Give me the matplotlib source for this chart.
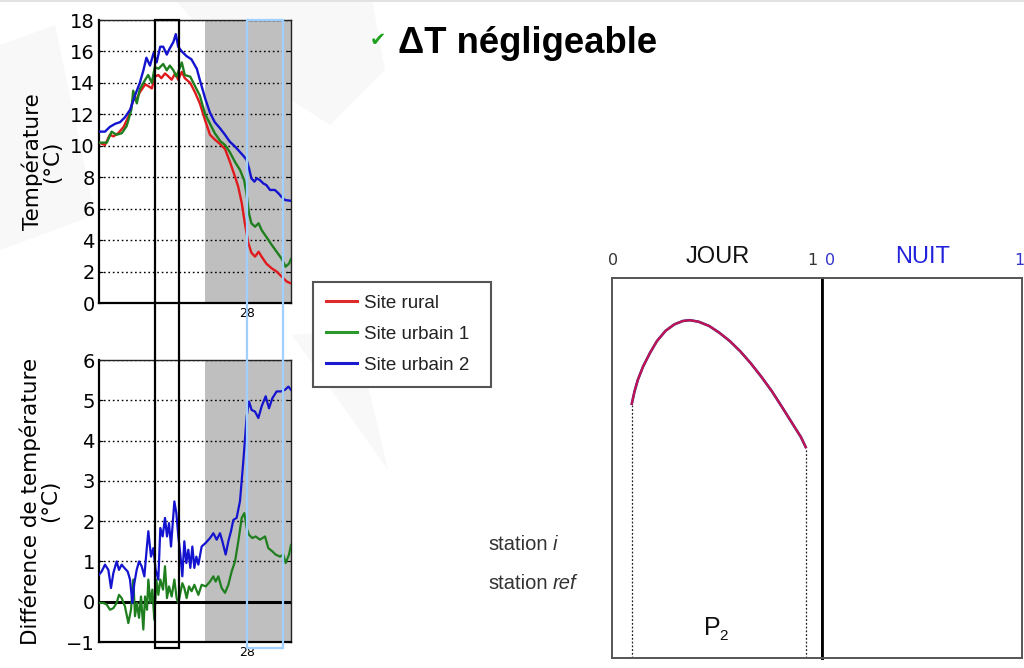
import matplotlib
matplotlib.use("Agg")
import matplotlib.pyplot as plt
import matplotlib.transforms as mtransforms
from matplotlib.patches import Rectangle, Polygon
from matplotlib.lines import Line2D
from matplotlib.font_manager import FontProperties

# ---------------------------------------------------------------- data
# time axis in hours from the start of the record
t_max = 32.0
day28_h = 24.67          # midnight, start of day 28
night_start = 17.67      # shaded night period
noon_box = (9.39, 13.39)
night_box = (24.67, 30.6)
day_tick_labels = ["28"]

# air temperature (°C)
rural_h = [0, 1.0, 1.8, 2.4, 3.2, 4.1, 4.9, 5.7, 6.3, 6.8, 7.7, 8.2, 8.8, 9.3, 9.9,
           10.4, 11.0, 11.6, 12.1, 12.7, 13.2, 13.8, 14.3, 15.2, 16.0, 16.8, 17.7,
           18.5, 19.3, 20.2, 21.0, 21.8, 22.7, 23.2, 23.8, 24.3, 24.9, 25.4, 26.0,
           26.6, 27.1, 27.9, 28.8, 29.6, 30.4, 31.3, 32.0]
rural_t = [10.2, 10.05, 10.7, 10.6, 10.8, 11.2, 11.85, 12.9, 13.0, 13.4, 13.9, 13.8,
           13.65, 14.4, 14.5, 14.3, 14.6, 14.4, 14.2, 14.6, 14.2, 14.7, 14.3, 14.0,
           13.4, 12.7, 11.6, 10.7, 10.4, 10.1, 9.8, 9.0, 8.0, 7.4, 6.34, 5.08, 3.8,
           3.2, 2.95, 3.26, 2.95, 2.5, 2.2, 2.0, 1.7, 1.36, 1.25]

urb1_h = [0, 1.3, 2.1, 2.9, 3.8, 4.6, 5.4, 5.7, 6.3, 6.8, 7.7, 8.2, 8.8, 9.3, 9.9,
          10.7, 11.3, 11.8, 12.4, 12.9, 13.8, 14.3, 15.2, 16.0, 16.8, 17.7, 18.5,
          19.3, 20.2, 21.0, 21.8, 22.7, 23.5, 24.2, 24.6, 25.0, 25.4, 26.0, 26.6,
          27.1, 27.9, 28.8, 29.6, 30.4, 31.1, 31.7, 32.0]
urb1_t = [10.2, 10.2, 10.9, 10.7, 10.8, 11.25, 12.3, 13.5, 12.7, 13.6, 14.2, 14.5,
          14.0, 15.0, 14.9, 15.2, 14.8, 15.1, 14.8, 14.4, 15.3, 14.5, 14.4, 13.8,
          13.2, 12.0, 11.4, 10.8, 10.3, 10.05, 9.6, 8.95, 8.46, 7.8, 6.9, 5.7, 5.07,
          4.85, 5.07, 4.64, 4.2, 3.69, 3.26, 2.84, 2.31, 2.52, 2.8]

urb2_h = [0, 1.0, 1.8, 2.7, 3.5, 4.3, 5.2, 6.0, 6.8, 7.4, 7.9, 8.5, 9.1, 9.6, 10.2,
          10.7, 11.3, 11.8, 12.4, 12.8, 13.2, 13.8, 14.6, 15.4, 16.3, 16.8, 17.7,
          18.5, 19.3, 20.2, 21.0, 21.8, 22.7, 23.5, 24.2, 24.6, 25.0, 25.4, 25.9,
          26.3, 26.8, 27.4, 27.9, 28.5, 29.3, 29.9, 30.4, 31.0, 32.0]
urb2_t = [10.9, 10.9, 11.2, 11.4, 11.5, 11.8, 12.3, 13.2, 14.0, 14.8, 15.6, 15.1,
          15.9, 15.3, 16.3, 16.3, 15.8, 16.2, 16.6, 17.1, 16.3, 16.0, 15.7, 15.5,
          14.9, 14.2, 13.0, 12.1, 11.5, 11.1, 10.7, 10.26, 9.94, 9.6, 9.3, 9.1,
          8.57, 7.93, 7.72, 7.93, 7.82, 7.6, 7.5, 7.19, 7.19, 6.98, 6.76, 6.55, 6.5]

# temperature difference with the rural site (°C)
d1_h = [0, 0.72, 1.28, 1.83, 2.39, 2.94, 3.33, 3.78, 4.33, 4.89, 5.33, 5.72, 6.0,
        6.33, 6.67, 7.0, 7.39, 7.67, 8.0, 8.22, 8.56, 8.89, 9.22, 9.56, 9.89, 10.22,
        10.67, 11.0, 11.33, 11.67, 12.11, 12.56, 12.94, 13.22, 13.56, 13.89, 14.22,
        14.61, 15.0, 15.44, 15.89, 16.56, 17.11, 17.78, 18.5, 19.06, 19.44, 19.89,
        20.44, 21.0, 21.56, 22.11, 22.67, 23.22, 23.78, 24.22, 24.61, 25.0, 25.56,
        26.11, 26.83, 27.67, 28.22, 28.89, 29.44, 30.17, 30.72, 31.11, 31.67, 32.0]
d1_v = [-0.03, -0.03, -0.07, -0.2, -0.16, -0.03, 0.17, 0.09, -0.12, -0.53, -0.2,
        0.55, -0.36, -0.03, -0.4, 0.13, -0.69, 0.13, -0.2, 0.55, -0.03, 0.3, -0.45,
        0.55, 0.17, 0.55, 0.3, 0.88, 0.09, 0.38, 0.13, 0.55, 0.09, -0.03, 0.22, 0.46,
        0.34, 0.09, 0.38, 0.26, 0.42, 0.17, 0.42, 0.38, 0.5, 0.63, 0.5, 0.63, 0.34,
        0.22, 0.42, 0.75, 1.0, 1.5, 2.08, 2.2, 1.83, 1.66, 1.58, 1.62, 1.54, 1.62,
        1.33, 1.25, 1.17, 1.12, 1.17, 0.96, 1.17, 1.41]

d2_h = [0, 0.44, 1.0, 1.56, 2.0, 2.39, 2.94, 3.33, 3.78, 4.22, 4.78, 5.17, 5.56, 5.89,
        6.28, 6.67, 7.11, 7.56, 7.94, 8.22, 8.67, 9.06, 9.44, 9.89, 10.22, 10.61, 11.0,
        11.33, 11.67, 12.0, 12.56, 12.89, 13.22, 13.56, 13.89, 14.22, 14.56, 14.89,
        15.22, 15.56, 15.89, 16.22, 16.56, 17.11, 17.78, 18.5, 19.06, 19.61, 20.17,
        20.56, 21.11, 21.56, 22.0, 22.39, 22.94, 23.5, 24.06, 24.61, 25.0, 25.44, 26.0,
        26.56, 27.11, 27.78, 28.33, 28.89, 29.61, 30.33, 31.0, 31.56, 32.0]
d2_v = [0.67, 0.75, 0.92, 0.79, 0.34, 0.71, 1.0, 0.79, 0.92, 0.84, 0.75, 0.55, -0.03,
        0.46, 0.79, 1.0, 0.88, 0.63, 1.29, 1.75, 1.12, 1.33, 0.79, 0.55, 1.83, 1.62,
        2.08, 1.62, 1.95, 1.37, 2.49, 2.2, 1.62, 1.17, 0.63, 1.5, 0.96, 1.29, 0.84,
        1.37, 0.84, 1.12, 0.92, 1.37, 1.46, 1.58, 1.7, 1.54, 1.7, 1.5, 1.17, 1.5, 1.75,
        2.03, 2.08, 2.5, 3.5, 4.6, 4.97, 4.76, 4.72, 4.56, 4.85, 5.1, 4.8, 5.05, 5.22,
        5.22, 5.26, 5.34, 5.26]

legend_labels = ["Site rural", "Site urbain 1", "Site urbain 2"]
series_colors = ["#e01a1c", "#1f7f1f", "#1414d0"]
legend_colors = ["#dd2a2a", "#28992a", "#1a1ad0"]

# schematic daytime profile (fraction of the day, relative temperature)
day_x = [0.093, 0.107, 0.123, 0.148, 0.181, 0.214, 0.255, 0.297, 0.338, 0.371,
         0.412, 0.462, 0.511, 0.561, 0.611, 0.660, 0.710, 0.760, 0.809, 0.859,
         0.900, 0.925]
station_i = [0.666, 0.701, 0.732, 0.767, 0.803, 0.834, 0.861, 0.878, 0.887, 0.889,
             0.885, 0.874, 0.856, 0.834, 0.807, 0.776, 0.741, 0.703, 0.661, 0.617,
             0.581, 0.552]
station_ref = list(station_i)

# ---------------------------------------------------------------- figure
W, H = 1024, 668
fig = plt.figure(figsize=(W / 100, H / 100), dpi=100)
fig.patch.set_facecolor("white")


def fx(px):
    return px / W


def fy(py):
    return 1 - py / H


# faint slide background shapes
bg = "#f8f8f8"
for pts in ([(175, 0), (372, 0), (385, 70), (330, 125), (230, 60)],
            [(0, 45), (55, 25), (95, 215), (0, 250)],
            [(292, 335), (355, 330), (388, 470)]):
    fig.add_artist(Polygon([(fx(x), fy(y)) for x, y in pts], closed=True,
                           transform=fig.transFigure, facecolor=bg,
                           edgecolor="none", zorder=-5))
fig.add_artist(Rectangle((0, fy(2)), 1, 2 / H, transform=fig.transFigure,
                         facecolor="#e2e2e2", edgecolor="none", zorder=-4))

label_font = "DejaVu Sans"
dotted = (0, (1.2, 2.0))


def style_series_axes(ax, ylim, yticks):
    ax.set_xlim(0, t_max)
    ax.set_ylim(*ylim)
    ax.set_yticks(yticks)
    ax.set_xticks([day28_h])
    ax.set_xticklabels(day_tick_labels, fontsize=9)
    ax.tick_params(axis="x", length=0, pad=3)
    ax.tick_params(axis="y", labelsize=14, length=3, direction="in",
                   right=True, pad=3)
    ax.axvspan(night_start, t_max, facecolor="#bfbfbf", edgecolor="none",
               zorder=0.5)
    ax.yaxis.grid(True, linestyle=dotted, color="black", lw=1.0)
    ax.set_axisbelow("line")
    for side in ("left", "bottom"):
        ax.spines[side].set_linewidth(1.6)
        ax.spines[side].set_color("black")
    for side in ("top", "right"):
        ax.spines[side].set_linewidth(1.0)
        ax.spines[side].set_color("#222222")


# top panel: temperatures
ax1 = fig.add_axes([fx(99), fy(303), 192 / W, 283 / H])
style_series_axes(ax1, (0, 18), range(0, 19, 2))
for (hh, vv), c in zip([(rural_h, rural_t), (urb1_h, urb1_t), (urb2_h, urb2_t)],
                       series_colors):
    ax1.plot(hh, vv, color=c, lw=1.7, zorder=3)
ax1.set_ylabel("Température\n(°C)", fontsize=15.5, family=label_font,
               linespacing=1.0)
ax1.yaxis.set_label_coords(-0.19, 0.5)

# bottom panel: differences
ax2 = fig.add_axes([fx(99), fy(642), 192 / W, 282 / H])
style_series_axes(ax2, (-1, 6), range(-1, 7))
ax2.axhline(0, color="black", lw=2.2, zorder=2.5)
ax2.plot(d1_h, d1_v, color=series_colors[1], lw=1.6, zorder=3)
ax2.plot(d2_h, d2_v, color=series_colors[2], lw=1.6, zorder=3)
ax2.set_ylabel("Différence de température\n(°C)", fontsize=15.5,
               family=label_font, linespacing=1.0)
ax2.yaxis.set_label_coords(-0.2, 0.5)

# highlight boxes running across both panels
trans = mtransforms.blended_transform_factory(ax1.transData, fig.transFigure)
for (t0, t1), ec in ((noon_box, "black"), (night_box, "#9fd0ff")):
    fig.add_artist(Rectangle((t0, fy(648)), t1 - t0, fy(20) - fy(648),
                             transform=trans, fill=False, edgecolor=ec,
                             lw=1.6, zorder=6))

# legend
handles = [Line2D([], [], color=c, lw=2.2) for c in legend_colors]
leg = fig.legend(handles, legend_labels, loc="upper left",
                 bbox_to_anchor=(fx(313), fy(387), fx(491) - fx(313),
                                 fy(282) - fy(387)),
                 mode="expand", borderaxespad=0,
                 prop=FontProperties(family="Liberation Sans", size=13.5),
                 frameon=True, fancybox=False, framealpha=1,
                 edgecolor="#555555", borderpad=0.69, labelspacing=0.74,
                 handlelength=1.65, handletextpad=0.4)
leg.get_frame().set_linewidth(1.5)
for txt in leg.get_texts():
    txt.set_color("#222222")

# title
fig.text(fx(378), fy(40), "\u2714", fontsize=14, color="#1fa01f",
         family="DejaVu Sans", ha="center", va="center")
fig.text(fx(398), fy(53), "ΔT négligeable", fontsize=26.3, fontweight="bold",
         family="Liberation Sans", ha="left", va="baseline", color="black")

# schematic day / night panels
axj = fig.add_axes([fx(612), fy(658), 210 / W, 380 / H])
axn = fig.add_axes([fx(822), fy(658), 200 / W, 380 / H])
for ax in (axj, axn):
    ax.set_xlim(0, 1)
    ax.set_ylim(0, 1)
    ax.set_xticks([])
    ax.set_yticks([])
    for sp in ax.spines.values():
        sp.set_color("#555555")
        sp.set_linewidth(1.4)
axj.spines["right"].set_color("black")
axj.spines["right"].set_linewidth(2.0)
axn.spines["left"].set_color("black")
axn.spines["left"].set_linewidth(2.0)

axj.plot(day_x, station_ref, color="#30309a", lw=1.9, solid_capstyle="butt")
axj.plot(day_x, station_i, color="#c8124e", lw=1.5, solid_capstyle="butt")
axj.vlines([day_x[0], day_x[-1]], 0, [station_i[0], station_i[-1]],
           colors="#222222", linestyles=(0, (1.5, 1.5)), lw=0.9)

sans = "Liberation Sans"
axj.text(0.005, 1.045, "0", transform=axj.transAxes, ha="center", va="center",
         fontsize=11.5, color="#333333", family="DejaVu Sans")
axj.text(0.952, 1.045, "1", transform=axj.transAxes, ha="center", va="center",
         fontsize=11.5, color="#333333", family="DejaVu Sans")
axj.text(0.502, 1.055, "JOUR", transform=axj.transAxes, ha="center",
         va="center", fontsize=17, color="#111111", family=sans)
axn.text(0.04, 1.045, "0", transform=axn.transAxes, ha="center", va="center",
         fontsize=11.5, color="#3333cc", family="DejaVu Sans")
axn.text(0.985, 1.045, "1", transform=axn.transAxes, ha="center", va="center",
         fontsize=11.5, color="#3333cc", family="DejaVu Sans")
axn.text(0.505, 1.055, "NUIT", transform=axn.transAxes, ha="center",
         va="center", fontsize=17, color="#2222dd", family=sans)

fig.text(fx(704), fy(635), "P", fontsize=18, family=sans, color="#111111",
         va="baseline", ha="left")
fig.text(fx(719), fy(640), "2", fontsize=11, family=sans, color="#111111",
         va="baseline", ha="left")

# station labels: upright word followed by an italic name
renderer = fig.canvas.get_renderer()
for py, name in ((550, "i"), (589, "ref")):
    t = fig.text(fx(488), fy(py), "station", fontsize=14.5, family=sans,
                 color="#333333", va="baseline", ha="left")
    bb = t.get_window_extent(renderer=renderer)
    fig.text(fx(bb.x1 + 5), fy(py), name, fontsize=14.5, family=sans,
             style="italic", color="#333333", va="baseline", ha="left")

fig.savefig("out.png", dpi=100, facecolor="white")
